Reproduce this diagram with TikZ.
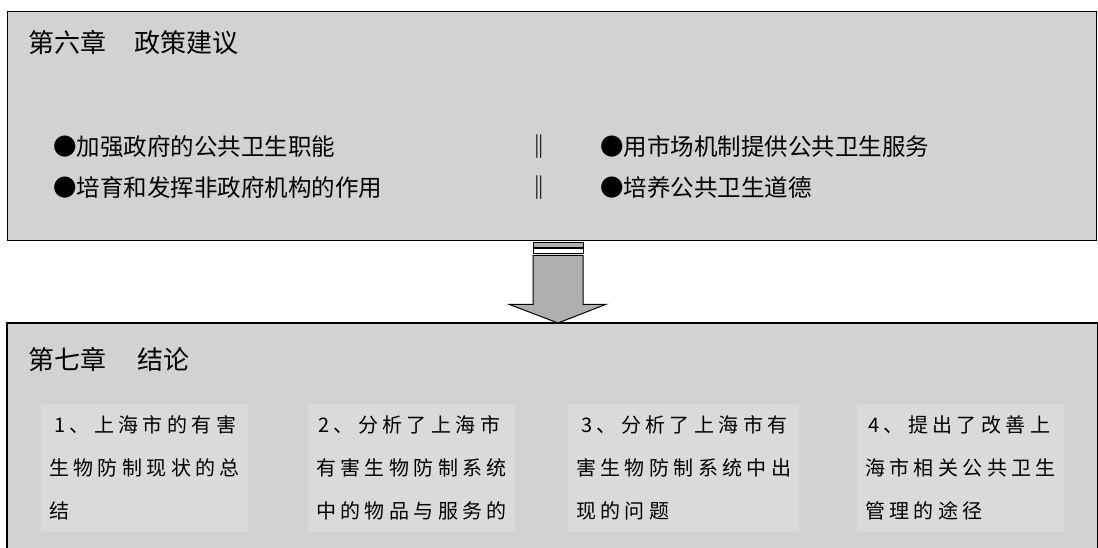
\documentclass[tikz,border=0pt]{standalone}
\usepackage{fontspec}
\setmainfont{Noto Sans CJK SC}
\newfontfamily\itemfont[LetterSpace=22]{Noto Sans CJK SC}
\usetikzlibrary{calc}
\definecolor{boxfill}{RGB}{210,210,210}
\definecolor{patchfill}{RGB}{218,218,218}
\definecolor{arrowfill}{RGB}{175,175,175}
\tikzset{
  panel/.style={fill=boxfill, draw=black, line width=1.3pt, inner sep=0pt, anchor=north west},
  title/.style={anchor=west, inner sep=0pt, font=\fontsize{26}{30}\selectfont},
  bullets/.style={anchor=west, inner sep=0pt, align=left, font=\fontsize{23.5}{41}\selectfont},
  itembox/.style={anchor=west, inner xsep=8pt, inner ysep=12pt, align=left, fill=patchfill, font=\itemfont\fontsize{20}{43}\selectfont},
  arrowshape/.style={fill=arrowfill, draw=black, line width=1pt, line join=miter}
}
\begin{document}
\begin{tikzpicture}[x=1pt,y=-1pt]
\useasboundingbox (0,0) rectangle (1098,548);
\fill[white] (0,0) rectangle (1098,548);
% top panel
\node[panel, minimum width=1089pt, minimum height=229pt] (top) at (7,11) {};
\node[title] (t6) at (28,43) {第六章\hspace{28pt}政策建议};
\node[bullets] (b1) at (53,167.5) {●加强政府的公共卫生职能\\●培育和发挥非政府机构的作用};
\node[bullets, font=\fontsize{23.5}{41}\selectfont\bfseries] (sep) at (527,167.5) {‖\\‖};
\node[bullets] (b2) at (600,167.5) {●用市场机制提供公共卫生服务\\●培养公共卫生道德};
% bottom panel
\node[panel, draw=none, minimum width=1089pt, minimum height=225pt] (bot) at (7,323) {};
\draw[line width=1.3pt] (bot.south west) -- (bot.north west) -- (bot.north east) -- (bot.south east);
\node[title] (t7) at (28,359) {第七章\hspace{31pt}结论};
\node[itembox] (i1) at (41,468) {\hspace*{5pt}1、上海市的有害\\生物防制现状的总\\结};
\node[itembox] (i2) at (308,468) {\hspace*{2pt}2、分析了上海市\\有害生物防制系统\\中的物品与服务的};
\node[itembox] (i3) at (568,468) {\hspace*{5pt}3、分析了上海市有\\害生物防制系统中出\\现的问题};
\node[itembox] (i4) at (857,468) {\hspace*{3pt}4、提出了改善上\\海市相关公共卫生\\管理的途径};
% arrow
\coordinate (as) at ($(top.south west)+(551,0)$);
\coordinate (tip) at (bot.north -| as);
\draw[fill=arrowfill, line width=0.8pt] ($(as)+(-25,1.5)$) rectangle ($(as)+(25,6)$);
\draw[fill=white, line width=0.8pt] ($(as)+(-25,7.5)$) rectangle ($(as)+(25,12)$);
\draw[arrowshape] ($(as)+(-25,14)$) -- ($(as)+(25,14)$) -- ($(as)+(25,63)$) -- ($(as)+(48,63)$) -- (tip) -- ($(as)+(-49,63)$) -- ($(as)+(-25,63)$) -- cycle;
\end{tikzpicture}
\end{document}
